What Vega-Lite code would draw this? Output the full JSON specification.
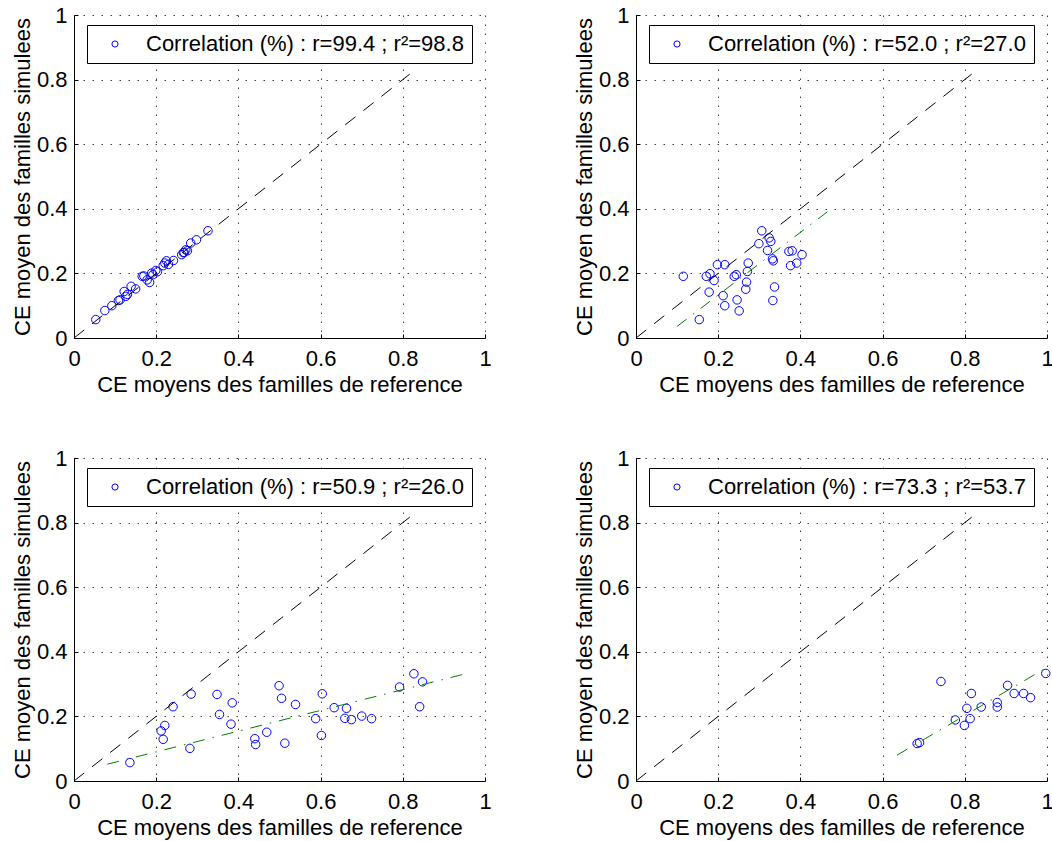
{
  "$schema": "https://vega.github.io/schema/vega-lite/v6.json",
  "background": "white",
  "padding": {"left": 11, "top": 4, "right": 2, "bottom": 2},
  "bounds": "flush",
  "columns": 2,
  "spacing": {"row": 120, "column": 151},
  "datasets": {
    "p1": [
      {"x":0.053,"y":0.057},{"x":0.075,"y":0.085},{"x":0.092,"y":0.100},{"x":0.108,"y":0.116},{"x":0.112,"y":0.118},
      {"x":0.122,"y":0.144},{"x":0.126,"y":0.129},{"x":0.130,"y":0.135},{"x":0.139,"y":0.160},{"x":0.150,"y":0.152},
      {"x":0.166,"y":0.191},{"x":0.170,"y":0.192},{"x":0.178,"y":0.180},{"x":0.184,"y":0.172},{"x":0.189,"y":0.201},
      {"x":0.192,"y":0.196},{"x":0.199,"y":0.209},{"x":0.203,"y":0.205},{"x":0.217,"y":0.224},{"x":0.221,"y":0.232},
      {"x":0.225,"y":0.239},{"x":0.230,"y":0.228},{"x":0.242,"y":0.240},{"x":0.262,"y":0.258},{"x":0.266,"y":0.264},
      {"x":0.268,"y":0.265},{"x":0.272,"y":0.273},{"x":0.276,"y":0.270},{"x":0.284,"y":0.294},{"x":0.298,"y":0.304},
      {"x":0.326,"y":0.332}
    ],
    "p2": [
      {"x":0.115,"y":0.191},{"x":0.154,"y":0.057},{"x":0.171,"y":0.191},{"x":0.180,"y":0.199},{"x":0.190,"y":0.178},
      {"x":0.178,"y":0.142},{"x":0.198,"y":0.227},{"x":0.216,"y":0.227},{"x":0.212,"y":0.131},{"x":0.216,"y":0.100},
      {"x":0.239,"y":0.191},{"x":0.244,"y":0.196},{"x":0.246,"y":0.118},{"x":0.251,"y":0.084},{"x":0.267,"y":0.151},
      {"x":0.269,"y":0.173},{"x":0.271,"y":0.206},{"x":0.273,"y":0.232},{"x":0.299,"y":0.292},{"x":0.306,"y":0.332},
      {"x":0.320,"y":0.271},{"x":0.324,"y":0.310},{"x":0.328,"y":0.299},{"x":0.332,"y":0.245},{"x":0.334,"y":0.239},
      {"x":0.337,"y":0.158},{"x":0.333,"y":0.116},{"x":0.372,"y":0.268},{"x":0.380,"y":0.270},{"x":0.376,"y":0.224},
      {"x":0.391,"y":0.232},{"x":0.404,"y":0.258}
    ],
    "p3": [
      {"x":0.136,"y":0.057},{"x":0.212,"y":0.155},{"x":0.221,"y":0.172},{"x":0.217,"y":0.129},{"x":0.241,"y":0.230},
      {"x":0.285,"y":0.269},{"x":0.282,"y":0.101},{"x":0.348,"y":0.268},{"x":0.354,"y":0.206},{"x":0.385,"y":0.242},
      {"x":0.382,"y":0.176},{"x":0.440,"y":0.131},{"x":0.442,"y":0.113},{"x":0.469,"y":0.151},{"x":0.499,"y":0.295},
      {"x":0.505,"y":0.256},{"x":0.539,"y":0.237},{"x":0.513,"y":0.117},{"x":0.588,"y":0.193},{"x":0.604,"y":0.270},
      {"x":0.602,"y":0.141},{"x":0.633,"y":0.227},{"x":0.663,"y":0.225},{"x":0.659,"y":0.194},{"x":0.675,"y":0.190},
      {"x":0.700,"y":0.201},{"x":0.724,"y":0.193},{"x":0.792,"y":0.291},{"x":0.827,"y":0.332},{"x":0.848,"y":0.307},
      {"x":0.841,"y":0.230}
    ],
    "p4": [
      {"x":0.684,"y":0.116},{"x":0.690,"y":0.119},{"x":0.742,"y":0.308},{"x":0.777,"y":0.189},{"x":0.799,"y":0.172},
      {"x":0.805,"y":0.225},{"x":0.813,"y":0.193},{"x":0.816,"y":0.271},{"x":0.840,"y":0.229},{"x":0.879,"y":0.243},
      {"x":0.879,"y":0.229},{"x":0.904,"y":0.296},{"x":0.920,"y":0.271},{"x":0.943,"y":0.271},{"x":0.960,"y":0.258},
      {"x":0.997,"y":0.333}
    ],
    "diag": [{"x":0,"y":0},{"x":0.83,"y":0.83}],
    "reg2": [{"x":0.10,"y":0.036},{"x":0.467,"y":0.392}],
    "reg3": [{"x":0.081,"y":0.052},{"x":0.953,"y":0.332}],
    "reg4": [{"x":0.635,"y":0.080},{"x":0.995,"y":0.348}]
  },
  "config": {
    "font": "Liberation Sans",
    "view": {"stroke": null},
    "axis": {
      "labelFont": "Liberation Sans", "titleFont": "Liberation Sans",
      "labelFontSize": 22, "titleFontSize": 22, "titleFontWeight": "normal",
      "labelColor": "black", "titleColor": "black",
      "domainColor": "black", "domainWidth": 1,
      "tickColor": "black", "tickSize": -4, "tickWidth": 1,
      "gridColor": "black", "gridDash": [1.5, 7.5], "gridWidth": 1, "gridOpacity": 0.75,
      "labelFlush": false, "labelOverlap": false
    },
    "axisX": {"labelPadding": 14, "titlePadding": 5},
    "axisY": {"labelPadding": 11, "titlePadding": 2},
    "legend": {
      "orient": "none", "legendX": 13, "legendY": 10,
      "strokeColor": "black", "fillColor": "white", "padding": 8,
      "labelFont": "Liberation Sans", "labelFontSize": 22, "labelColor": "black",
      "symbolType": "circle", "symbolSize": 38, "symbolStrokeWidth": 1,
      "symbolOffset": 9, "labelOffset": 20, "labelLimit": 600, "cornerRadius": 0
    }
  },
  "resolve": {"scale": {"color": "independent"}, "legend": {"color": "independent"}},
  "concat": [
    {
      "width": 411, "height": 323,
      "layer": [
        {"data": {"name": "p1"}, "mark": {"type": "point", "filled": false, "size": 72, "strokeWidth": 1, "opacity": 1},
         "encoding": {
           "x": {"field": "x", "type": "quantitative", "scale": {"domain": [0, 1], "nice": false}, "title": "CE moyens des familles de reference", "axis": {"values": [0, 0.2, 0.4, 0.6, 0.8, 1], "format": "~g"}},
           "y": {"field": "y", "type": "quantitative", "scale": {"domain": [0, 1], "nice": false}, "title": "CE moyen des familles simulees", "axis": {"values": [0, 0.2, 0.4, 0.6, 0.8, 1], "format": "~g"}},
           "color": {"datum": "Correlation (%) : r=99.4 ; r²=98.8", "type": "nominal", "scale": {"range": ["#0000ff"]}, "title": null}
         }},
        {"data": {"name": "diag"}, "mark": {"type": "line", "color": "black", "strokeWidth": 1, "strokeDash": [13, 10]},
         "encoding": {"x": {"field": "x", "type": "quantitative"}, "y": {"field": "y", "type": "quantitative"}}}
      ]
    },
    {
      "width": 411, "height": 323,
      "layer": [
        {"data": {"name": "p2"}, "mark": {"type": "point", "filled": false, "size": 72, "strokeWidth": 1, "opacity": 1},
         "encoding": {
           "x": {"field": "x", "type": "quantitative", "scale": {"domain": [0, 1], "nice": false}, "title": "CE moyens des familles de reference", "axis": {"values": [0, 0.2, 0.4, 0.6, 0.8, 1], "format": "~g"}},
           "y": {"field": "y", "type": "quantitative", "scale": {"domain": [0, 1], "nice": false}, "title": "CE moyen des familles simulees", "axis": {"values": [0, 0.2, 0.4, 0.6, 0.8, 1], "format": "~g"}},
           "color": {"datum": "Correlation (%) : r=52.0 ; r²=27.0", "type": "nominal", "scale": {"range": ["#0000ff"]}, "title": null}
         }},
        {"data": {"name": "diag"}, "mark": {"type": "line", "color": "black", "strokeWidth": 1, "strokeDash": [13, 10]},
         "encoding": {"x": {"field": "x", "type": "quantitative"}, "y": {"field": "y", "type": "quantitative"}}},
        {"data": {"name": "reg2"}, "mark": {"type": "line", "color": "#008000", "strokeWidth": 1, "strokeDash": [12, 8, 1.5, 8]},
         "encoding": {"x": {"field": "x", "type": "quantitative"}, "y": {"field": "y", "type": "quantitative"}}}
      ]
    },
    {
      "width": 411, "height": 323,
      "layer": [
        {"data": {"name": "p3"}, "mark": {"type": "point", "filled": false, "size": 72, "strokeWidth": 1, "opacity": 1},
         "encoding": {
           "x": {"field": "x", "type": "quantitative", "scale": {"domain": [0, 1], "nice": false}, "title": "CE moyens des familles de reference", "axis": {"values": [0, 0.2, 0.4, 0.6, 0.8, 1], "format": "~g"}},
           "y": {"field": "y", "type": "quantitative", "scale": {"domain": [0, 1], "nice": false}, "title": "CE moyen des familles simulees", "axis": {"values": [0, 0.2, 0.4, 0.6, 0.8, 1], "format": "~g"}},
           "color": {"datum": "Correlation (%) : r=50.9 ; r²=26.0", "type": "nominal", "scale": {"range": ["#0000ff"]}, "title": null}
         }},
        {"data": {"name": "diag"}, "mark": {"type": "line", "color": "black", "strokeWidth": 1, "strokeDash": [13, 10]},
         "encoding": {"x": {"field": "x", "type": "quantitative"}, "y": {"field": "y", "type": "quantitative"}}},
        {"data": {"name": "reg3"}, "mark": {"type": "line", "color": "#008000", "strokeWidth": 1, "strokeDash": [12, 8, 1.5, 8]},
         "encoding": {"x": {"field": "x", "type": "quantitative"}, "y": {"field": "y", "type": "quantitative"}}}
      ]
    },
    {
      "width": 411, "height": 323,
      "layer": [
        {"data": {"name": "p4"}, "mark": {"type": "point", "filled": false, "size": 72, "strokeWidth": 1, "opacity": 1},
         "encoding": {
           "x": {"field": "x", "type": "quantitative", "scale": {"domain": [0, 1], "nice": false}, "title": "CE moyens des familles de reference", "axis": {"values": [0, 0.2, 0.4, 0.6, 0.8, 1], "format": "~g"}},
           "y": {"field": "y", "type": "quantitative", "scale": {"domain": [0, 1], "nice": false}, "title": "CE moyen des familles simulees", "axis": {"values": [0, 0.2, 0.4, 0.6, 0.8, 1], "format": "~g"}},
           "color": {"datum": "Correlation (%) : r=73.3 ; r²=53.7", "type": "nominal", "scale": {"range": ["#0000ff"]}, "title": null}
         }},
        {"data": {"name": "diag"}, "mark": {"type": "line", "color": "black", "strokeWidth": 1, "strokeDash": [13, 10]},
         "encoding": {"x": {"field": "x", "type": "quantitative"}, "y": {"field": "y", "type": "quantitative"}}},
        {"data": {"name": "reg4"}, "mark": {"type": "line", "color": "#008000", "strokeWidth": 1, "strokeDash": [12, 8, 1.5, 8]},
         "encoding": {"x": {"field": "x", "type": "quantitative"}, "y": {"field": "y", "type": "quantitative"}}}
      ]
    }
  ]
}
